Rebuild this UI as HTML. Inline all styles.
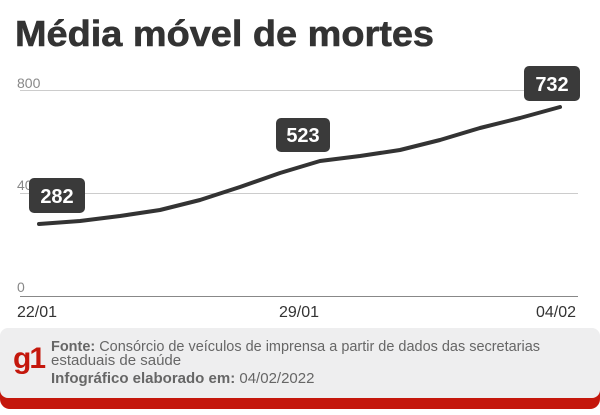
<!DOCTYPE html>
<html><head><meta charset="utf-8"><style>
body{margin:0;width:600px;height:415px;background:#fff;overflow:hidden;font-family:"Liberation Sans","DejaVu Sans",sans-serif}
</style></head><body>
<svg width="600" height="415" xmlns="http://www.w3.org/2000/svg" style="position:absolute;left:0;top:0">
<text x="15" y="46" font-size="36" font-weight="bold" fill="#333" textLength="419" lengthAdjust="spacingAndGlyphs" stroke="#333" stroke-width="0.6">Média móvel de mortes</text>
<line x1="20" y1="90.5" x2="578" y2="90.5" stroke="#ccc" stroke-width="1"/>
<line x1="20" y1="193.5" x2="578" y2="193.5" stroke="#ccc" stroke-width="1"/>
<line x1="20" y1="296.5" x2="578" y2="296.5" stroke="#888" stroke-width="1"/>
<text x="17" y="88" font-size="14" fill="#888">800</text>
<text x="17" y="190" font-size="14" fill="#888">400</text>
<text x="17" y="292" font-size="14" fill="#888">0</text>
<text x="17" y="317" font-size="16" fill="#333">22/01</text>
<text x="279" y="317" font-size="16" fill="#333">29/01</text>
<text x="536" y="317" font-size="16" fill="#333">04/02</text>
<polyline fill="none" stroke="#333" stroke-width="4" stroke-linecap="round" stroke-linejoin="round"
 points="39,224 80,221 120,216 160,210 200,200 240,187 280,173 320,161 360,156 400,150 440,140 480,128 520,118 560,107"/>
<rect x="29" y="178" width="56" height="35" rx="5" fill="#3a3a3a"/>
<text x="57" y="203" font-size="20" font-weight="bold" fill="#fff" text-anchor="middle">282</text>
<rect x="276" y="118" width="54" height="34" rx="5" fill="#3a3a3a"/>
<text x="303" y="142" font-size="20" font-weight="bold" fill="#fff" text-anchor="middle">523</text>
<rect x="524" y="66" width="56" height="35" rx="5" fill="#3a3a3a"/>
<text x="552" y="91" font-size="20" font-weight="bold" fill="#fff" text-anchor="middle">732</text>
<rect x="0" y="340" width="600" height="69" rx="10" fill="#c4170c"/>
<rect x="0" y="328" width="600" height="70" rx="8" fill="#eeeeef"/>
<text x="13" y="368" font-size="30" font-weight="bold" fill="#c4170c" letter-spacing="-2">g1</text>
<text x="51" y="351" font-size="15" fill="#666" textLength="489" lengthAdjust="spacingAndGlyphs"><tspan font-weight="bold">Fonte:</tspan> Consórcio de veículos de imprensa a partir de dados das secretarias</text>
<text x="51" y="365" font-size="15" fill="#666">estaduais de saúde</text>
<text x="51" y="383" font-size="15" fill="#666"><tspan font-weight="bold">Infográfico elaborado em:</tspan> 04/02/2022</text>
</svg>
</body></html>
